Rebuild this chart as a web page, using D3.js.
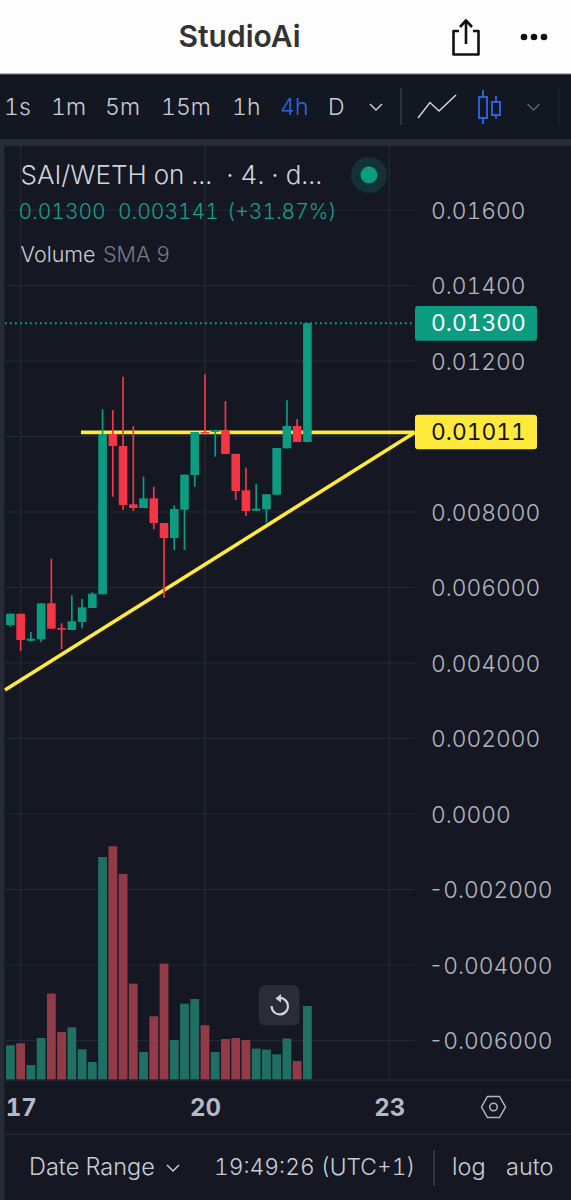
<!DOCTYPE html>
<html><head><meta charset="utf-8">
<script src="https://cdn.jsdelivr.net/npm/d3@7/dist/d3.min.js"></script>
<style>
html,body{margin:0;padding:0;background:#131722;overflow:hidden}
svg{display:block;font-family:Inter,"Noto Sans",sans-serif;font-variant-numeric:tabular-nums;font-feature-settings:"tnum" 1}
</style></head><body><div id="c"></div>
<script>
const opens =[5.007,5.306,4.591,4.628,5.581,4.927,4.874,5.086,5.457,5.820,10.066,9.748,8.204,8.106,8.363,7.709,7.311,8.061,8.980,10.119,10.119,10.164,9.540,8.574,8.034,8.072,8.458,9.687,10.278,9.854];
const highs =[5.306,5.306,4.821,5.581,6.763,5.052,5.793,5.695,5.873,10.720,10.702,11.584,10.278,8.935,8.670,7.709,8.177,8.988,10.119,11.648,10.172,10.940,9.540,9.174,8.742,8.469,9.695,10.959,10.464,13.000];
const lows  =[4.962,4.318,4.570,4.548,4.909,4.371,4.874,4.919,5.457,5.820,8.405,8.053,8.026,8.106,7.542,5.722,6.993,6.993,8.670,10.085,9.465,9.536,8.318,7.894,8.034,7.717,8.458,9.687,9.854,9.854];
const closes=[5.306,4.609,4.644,5.581,4.909,4.882,5.105,5.475,5.836,10.066,9.748,8.185,8.106,8.363,7.709,7.311,8.079,8.988,10.119,10.085,10.172,9.536,8.556,8.026,8.087,8.469,9.695,10.278,9.854,13.000];
const volumes=[34,36,14.3,41.3,85.7,47.3,52,30,17.3,222.3,233,205.3,95.7,27.3,63,115.7,39.3,75.7,80.3,54,27.3,40.3,41.3,39.3,30.7,29.7,25,40.7,18.3,73.3];
const yTicks=[16,14,12,8,6,4,2,0,-2,-4,-6];
const yLabels=["0.01600","0.01400","0.01200","0.008000","0.006000","0.004000","0.002000","0.0000","-0.002000","-0.004000","-0.006000"];
const gridY=[16,14,12,10,8,6,4,2,0,-2,-4,-6];
const xTicks=[1,19,37];
const xLabels=["17","20","23"];
const resistance=[[6.89,10.11],[39.48,10.11]];
const trend=[[-0.527,3.285],[39.48,10.106]];
const lastPrice=13.0, lineLabel=10.11;

const W=571,H=1200;
const UP="#0b9c82",DN="#f23645",UPV="#1f6f62",DNV="#933a48",TXT="#b2b5be",GRID="#252934",BG="#151823";
const x=d3.scaleLinear().domain([0,29]).range([10.4,307.4]);
const y=d3.scaleLinear().domain([0,16]).range([814,210]);
const yV=d3.scaleLinear().domain([0,233]).range([1079.3,846.3]);
const svg=d3.select("#c").append("svg").attr("width",W).attr("height",H).attr("viewBox",`0 0 ${W} ${H}`);

function T(px,py,s,size,fill,w,anchor){return svg.append("text").attr("x",px).attr("y",py).attr("font-size",size).attr("fill",fill).attr("font-weight",w||400).attr("text-anchor",anchor||"start").text(s);}

// backgrounds
svg.append("rect").attr("width",W).attr("height",H).attr("fill","#131722");
svg.append("rect").attr("width",W).attr("height",74).attr("fill","#fdfdfd");
svg.append("rect").attr("y",73.5).attr("width",W).attr("height",1).attr("fill","#777");
svg.append("rect").attr("y",139).attr("width",W).attr("height",7).attr("fill","#272b35");
svg.append("rect").attr("x",0).attr("y",139).attr("width",4.5).attr("height",1061).attr("fill","#272b35");
svg.append("rect").attr("x",4.5).attr("y",146).attr("width",W).attr("height",1054).attr("rx",5).attr("fill",BG);

// header
T(239.5,47,"StudioAi",30,"#333",600,"middle");
svg.append("path").attr("d","M459 31H453.5V54.5H478.5V31H473 M466 44V21 M460 27L466 20.5L472 27").attr("fill","none").attr("stroke","#111").attr("stroke-width",2.6).attr("stroke-linejoin","round");
svg.selectAll(".dot").data([524,534,544]).join("circle").attr("cx",d=>d).attr("cy",37).attr("r",3.3).attr("fill","#111");

// toolbar
[["1s",4],["1m",51],["5m",105],["15m",161],["1h",232],["4h",280,"#2f66e0"],["D",328]].forEach(d=>T(d[1],115,d[0],23,d[2]||"#c9ccd4",300));
const chev=(cx,cy,c)=>svg.append("path").attr("d",`M${cx-6} ${cy-3}L${cx} ${cy+3}L${cx+6} ${cy-3}`).attr("fill","none").attr("stroke",c).attr("stroke-width",1.5);
chev(376,107,"#c9ccd4");chev(533.5,107,"#5d606b");
svg.append("rect").attr("x",400.3).attr("y",88).attr("width",1.5).attr("height",37).attr("fill","#3a3e49");
svg.append("rect").attr("x",558.5).attr("y",88).attr("width",1).attr("height",37).attr("fill","#23262f");
svg.append("path").attr("d","M418 118L430 102.5L439 111L456 95").attr("fill","none").attr("stroke","#d1d4dc").attr("stroke-width",1.5);
svg.append("path").attr("d","M479 97H487V118H479Z M483 90V97 M483 118V124 M492 102H500V115H492Z M496 96V102 M496 115V119").attr("fill","none").attr("stroke","#2f5fd8").attr("stroke-width",2);

// grid
svg.append("g").selectAll("line").data(gridY).join("line").attr("x1",5).attr("x2",415).attr("y1",d=>y(d)).attr("y2",d=>y(d)).attr("stroke",GRID).attr("stroke-width",1.2);
svg.append("g").selectAll("line").data(xTicks).join("line").attr("x1",d=>x(d)).attr("x2",d=>x(d)).attr("y1",146).attr("y2",1080).attr("stroke",GRID).attr("stroke-width",1.2);
svg.append("rect").attr("x",5).attr("y",1079.5).attr("width",W).attr("height",1.2).attr("fill","#2a2e39");
svg.append("rect").attr("x",5).attr("y",1133.5).attr("width",W).attr("height",1.2).attr("fill","#2a2e39");

// volume
const isUp=i=>closes[i]>=opens[i];
svg.append("g").selectAll("rect").data(volumes).join("rect")
 .attr("x",(d,i)=>x(i)-4.4).attr("width",8.8).attr("y",d=>yV(d)).attr("height",d=>yV(0)-yV(d))
 .attr("fill",(d,i)=>isUp(i)?UPV:DNV);

// drawn lines
const line=d3.line().x(d=>x(d[0])).y(d=>y(d[1]));
svg.append("path").attr("d",line(resistance)).attr("stroke","#ffe93b").attr("stroke-width",3.6).attr("fill","none");
svg.append("path").attr("d",line(trend)).attr("stroke","#ffe93b").attr("stroke-width",3.6).attr("fill","none");
svg.append("line").attr("x1",5).attr("x2",415).attr("y1",y(lastPrice)).attr("y2",y(lastPrice)).attr("stroke",UP).attr("stroke-width",1.8).attr("stroke-dasharray","1.8 3.2");

// candles
const g=svg.append("g");
g.selectAll(".w").data(d3.range(opens.length)).join("line").attr("class","w")
 .attr("x1",i=>x(i)).attr("x2",i=>x(i)).attr("y1",i=>y(highs[i])).attr("y2",i=>y(lows[i]))
 .attr("stroke",i=>isUp(i)?UP:DN).attr("stroke-width",1.7);
g.selectAll(".b").data(d3.range(opens.length)).join("rect").attr("class","b")
 .attr("x",i=>x(i)-4.3).attr("width",8.6)
 .attr("y",i=>y(Math.max(opens[i],closes[i])))
 .attr("height",i=>Math.max(1.6,Math.abs(y(opens[i])-y(closes[i]))))
 .attr("fill",i=>isUp(i)?UP:DN);

// axes
const yAxis=svg.append("g").attr("transform","translate(432,0)")
 .call(d3.axisRight(y).tickValues(yTicks).tickFormat((d,i)=>yLabels[i]).tickSize(0).tickPadding(0));
yAxis.select(".domain").remove();
yAxis.selectAll("text").attr("x",(d,i)=>yTicks[i]<0?-3.5:-1).attr("dy","0.36em").attr("font-size",22.8).attr("font-weight",300).attr("font-family","Inter").attr("fill",TXT);
const xAxis=svg.append("g").attr("transform","translate(0,1116)")
 .call(d3.axisBottom(x).tickValues(xTicks).tickFormat((d,i)=>xLabels[i]).tickSize(0).tickPadding(0));
xAxis.select(".domain").remove();
xAxis.selectAll("text").attr("y",0).attr("dy",0).attr("font-size",24).attr("font-weight",700).attr("font-family","Inter").attr("fill","#b6b9c2");

// price labels
svg.append("rect").attr("x",415).attr("y",306).attr("width",122).attr("height",34.7).attr("rx",3).attr("fill",UP);
T(431,y(lastPrice)+8,"0.01300",22.8,"#fff",400);
svg.append("rect").attr("x",415).attr("y",414.7).attr("width",122).attr("height",34.5).attr("rx",3).attr("fill","#ffe93b");
T(431,y(lineLabel)+8,"0.01011",22.8,"#111",400);

// legend
T(20.5,184,"SAI/WETH on ...  · 4. · d...",26,"#d1d4dc",300).attr("xml:space","preserve");
svg.append("circle").attr("cx",369).attr("cy",175).attr("r",18).attr("fill",UP).attr("opacity",.2);
svg.append("circle").attr("cx",369).attr("cy",175).attr("r",8.5).attr("fill",UP);
T(18.5,219,"0.01300",21,"#1a9e85",300);
T(118,219,"0.003141",21,"#1a9e85",300);
T(227,219,"(+31.87%)",21,"#1a9e85",300);
T(20.5,262,"Volume",21.5,"#c9ccd4",300);
T(103,262,"SMA 9",21.5,"#787b86",300);

// reset button
svg.append("rect").attr("x",259).attr("y",985).attr("width",40.5).attr("height",40.5).attr("rx",6).attr("fill","#2a2d38");
svg.append("path").attr("d","M277 998.5A8.2 8.2 0 1 1 271.6 1006").attr("fill","none").attr("stroke","#d1d4dc").attr("stroke-width",2.2);
svg.append("path").attr("d","M281 994L275.5 998.5L281 1002.5Z").attr("fill","#d1d4dc");

// settings hex
svg.append("path").attr("d","M481.5 1107L487.5 1096.5H499.5L505.5 1107L499.5 1117.5H487.5Z").attr("fill","none").attr("stroke",TXT).attr("stroke-width",1.5);
svg.append("circle").attr("cx",493.5).attr("cy",1107).attr("r",3.8).attr("fill","none").attr("stroke",TXT).attr("stroke-width",1.5);

// footer
T(29,1175,"Date Range",23.5,"#c9ccd4",300);
chev(173,1168,"#c9ccd4");
T(214,1175,"19:49:26 (UTC+1)",22.8,"#c9ccd4",300);
svg.append("rect").attr("x",433.3).attr("y",1150).attr("width",1.5).attr("height",36).attr("fill","#3a3e49");
T(452,1175,"log",23.5,"#c9ccd4",300);
T(506,1175,"auto",23.5,"#c9ccd4",300);
</script></body></html>
